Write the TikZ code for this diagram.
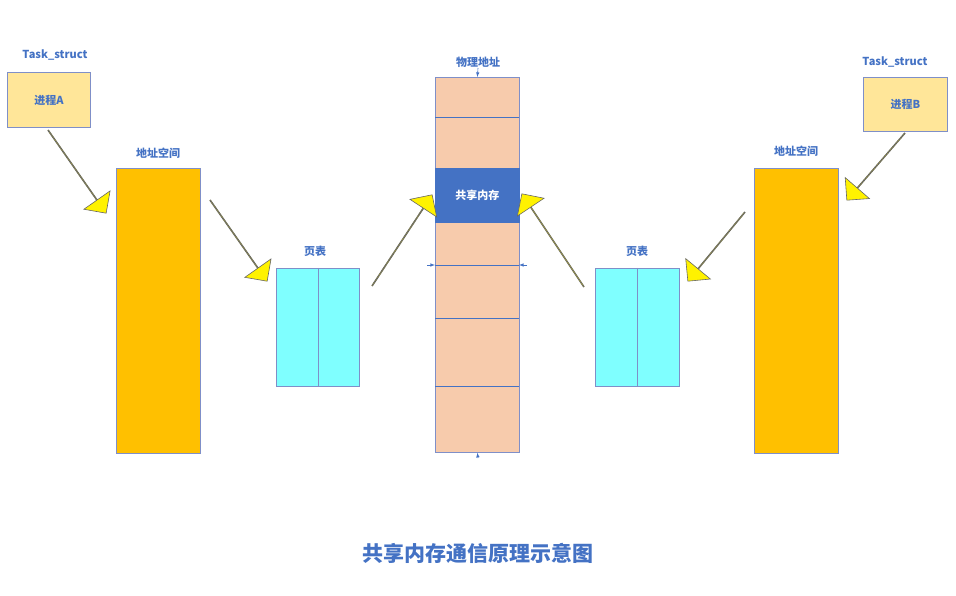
\documentclass[tikz,border=0pt]{standalone}
\usepackage{fontspec}
\setmainfont{Noto Sans CJK SC}
\usetikzlibrary{shapes.arrows,calc}
\definecolor{tblue}{HTML}{4472C4}
\definecolor{bord}{HTML}{7F8FC8}
\definecolor{procy}{HTML}{FFE699}
\definecolor{addro}{HTML}{FFC000}
\definecolor{ptc}{HTML}{7FFFFF}
\definecolor{memc}{HTML}{F7CBAC}
\begin{document}
\begin{tikzpicture}[x=1pt,y=-1pt,
  lbl/.style={text=tblue,font=\bfseries\fontsize{11}{13}\selectfont},
  box/.style={draw=bord,line width=0.8pt,inner sep=0,anchor=north west},
  yarrow/.style={single arrow,draw=gray!80!black,fill=yellow,line width=0.6pt,inner sep=0,minimum width=32pt,single arrow head extend=9pt,single arrow head indent=0pt},
  tick/.style={-latex,draw=tblue,line width=0.6pt}]
\useasboundingbox (0,0) rectangle (956,596);
\newcommand{\blkarrow}[2]{\path let \p1=($(#2)-(#1)$), \n1={atan2(\y1,\x1)}, \n2={veclen(\x1,\y1)} in node[yarrow,rotate=\n1,minimum height=\n2] at ($(#1)!0.5!(#2)$) {};}
% process A
\node[box,fill=procy,minimum width=83pt,minimum height=55pt] (pa) at (7,72) {};
\node[lbl] at (pa.center) {进程A};
\node[lbl] (tsa) at (55,55) {Task\_struct};
\node[box,fill=addro,minimum width=84pt,minimum height=285pt] (asa) at (116,168) {};
\node[lbl] (asal) at (158,153) {地址空间};
\node[box,fill=ptc,minimum width=83pt,minimum height=118pt] (pta) at (276,268) {};
\draw[bord,line width=0.8pt] (pta.north) -- (pta.south);
\node[lbl] (ptal) at (315,251) {页表};
% right
\node[box,fill=procy,minimum width=84pt,minimum height=54pt] (pb) at (863,77) {};
\node[lbl] at (pb.center) {进程B};
\node[lbl] (tsb) at (895,62) {Task\_struct};
\node[box,fill=addro,minimum width=84pt,minimum height=285pt] (asb) at (754,168) {};
\node[lbl] (asbl) at (796,151) {地址空间};
\node[box,fill=ptc,minimum width=84pt,minimum height=118pt] (ptb) at (595,268) {};
\draw[bord,line width=0.8pt] (ptb.north) -- (ptb.south);
\node[lbl] (ptbl) at (637,251) {页表};
% memory column
\node[box,fill=memc,minimum width=84pt,minimum height=375pt] (mem) at (435,77) {};
\foreach \yy in {117,265,318,386} \draw[tblue,line width=0.6pt] (435,\yy) -- (519,\yy);
\node[box,fill=tblue,draw=tblue,minimum width=84pt,minimum height=54pt] (shm) at (435,168) {};
\node[text=white,font=\bfseries\fontsize{11}{13}\selectfont] at (shm.center) {共享内存};
\node[lbl] (meml) at (478,62) {物理地址};
\coordinate (t1) at (478,68); \coordinate (t2) at (478,458); \coordinate (t3) at (427,265); \coordinate (t4) at (527,265);
\draw[tick] (t1) -- (mem.north);
\draw[tick] (t2) -- (mem.south);
\draw[tick] (t3) -- (435,265);
\draw[tick] (t4) -- (519,265);
% arrows
\coordinate (a1) at (48,130); \coordinate (b1) at (106,213);
\coordinate (a2) at (210,200); \coordinate (b2) at (267,281);
\coordinate (a3) at (372,286); \coordinate (b3) at (432,195);
\coordinate (a4) at (584,287); \coordinate (b4) at (522,194);
\coordinate (a5) at (745,212); \coordinate (b5) at (688,281);
\coordinate (a6) at (905,133); \coordinate (b6) at (847,200);
\blkarrow{a1}{b1}\blkarrow{a2}{b2}\blkarrow{a3}{b3}\blkarrow{a4}{b4}\blkarrow{a5}{b5}\blkarrow{a6}{b6}
\node[text=tblue,font=\bfseries\fontsize{21}{24}\selectfont] (title) at (478,553) {共享内存通信原理示意图};
\end{tikzpicture}
\end{document}
